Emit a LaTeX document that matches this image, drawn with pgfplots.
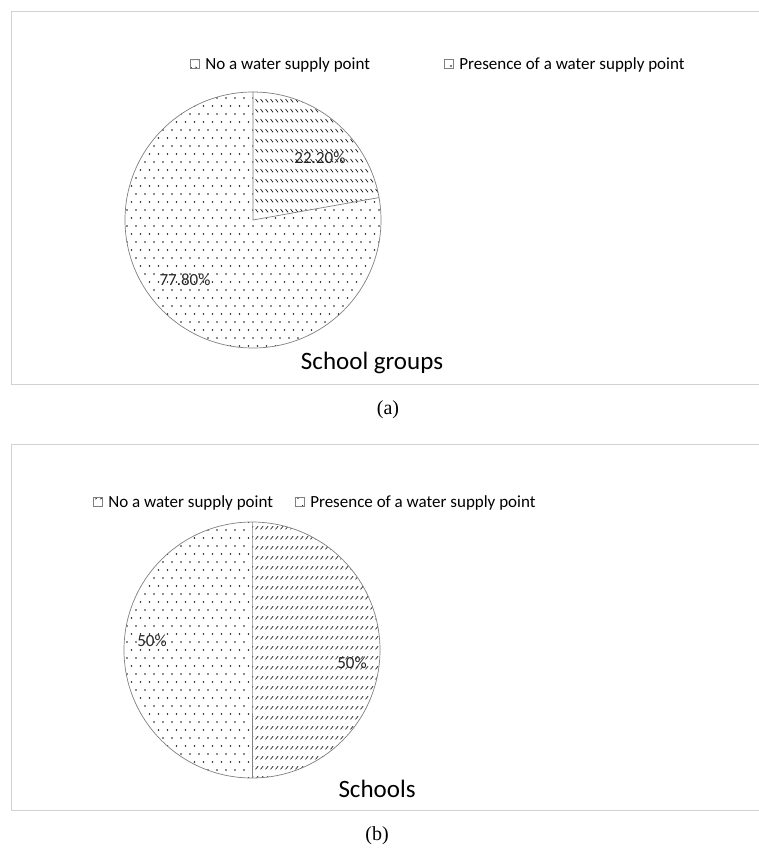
\documentclass[border=0pt]{standalone}
\usepackage{fontspec}
\setmainfont{Carlito}
\newfontfamily\seriffont{Liberation Serif}
\usepackage{pgfplots}
\usepackage{pgfplotstable}
\pgfplotsset{compat=1.18}
\usetikzlibrary{patterns.meta}

\tikzdeclarepattern{
  name=pdots,
  bottom left={(-1bp,-1bp)}, top right={(10bp,17bp)},
  tile size={(9bp,16bp)},
  code={
    \fill (1bp,1bp) circle (0.8bp);
    \fill (5.5bp,9bp) circle (0.8bp);
  }
}
\tikzdeclarepattern{
  name=phatchA,
  bottom left={(0bp,0bp)}, top right={(5bp,9.5bp)},
  tile size={(5bp,9.5bp)},
  code={
    \draw[line width=0.8bp] (0.6bp,5.2bp) -- (3.6bp,1.8bp);
  }
}
\tikzdeclarepattern{
  name=phatchB,
  bottom left={(0bp,0bp)}, top right={(5bp,10bp)},
  tile size={(5bp,10bp)},
  code={
    \draw[line width=0.8bp] (0.6bp,1.8bp) -- (3.6bp,5.2bp);
  }
}

\pgfplotstableread{
label value
No 22.2
Presence 77.8
}\tabA
\pgfplotstableread{
label value
No 50
Presence 50
}\tabB

\pgfplotsset{
  piebox/.style={
    scale only axis, width=748bp,
    axis line style={gray!35, line width=0.8bp},
    xtick=\empty, ytick=\empty, clip=false,
    legend style={draw=none, fill=none, font=\fontsize{17bp}{20bp}\selectfont,
      inner sep=0pt, legend columns=2, anchor=west, cells={anchor=west}},
    legend image code/.code={%
      \path[draw=none, fill=none, pattern=none] (0bp,0bp) rectangle (13bp,0.1bp);
      \draw[##1, draw=gray, line width=0.5bp] (0bp,-4.5bp) rectangle (9bp,4.5bp);},
  },
}
\tikzset{pielabel/.style={font=\fontsize{17bp}{20bp}\selectfont, text=black!85}}

\begin{document}
\begin{tikzpicture}
\path[use as bounding box] (0bp,0bp) rectangle (759bp,-851bp);
\pgfplotstablegetelem{0}{value}\of\tabA
\pgfmathsetmacro\aA{90-3.6*\pgfplotsretval}
\pgfplotstablegetelem{0}{value}\of\tabB
\pgfmathsetmacro\aB{90-3.6*\pgfplotsretval}

% ---------- panel (a)
\begin{axis}[piebox, at={(11bp,-384bp)}, anchor=south west, height=373bp,
  xmin=-1.890625, xmax=3.953125, ymin=-1.28125, ymax=1.6328125,
  legend style={at={(0.2393,0.858)}, /tikz/every even column/.append style={column sep=72bp}}]
\addlegendimage{pattern=phatchA, pattern color=black}
\addlegendentry{No a water supply point}
\addlegendimage{pattern=pdots, pattern color=black}
\addlegendentry{Presence of a water supply point}
\fill[pattern=phatchA, pattern color=black!90] (axis cs:0,0) -- (axis cs:0,1) arc[start angle=90, end angle=\aA, radius=128bp] -- cycle;
\fill[pattern=pdots, pattern color=black!90] (axis cs:0,0) -- (axis cs:0,1) arc[start angle=90, end angle=\aA+360, radius=128bp] -- cycle;
\draw[gray, line width=0.7bp] (axis cs:0,0) circle[radius=128bp];
\draw[gray, line width=0.7bp] (axis cs:0,1) -- (axis cs:0,0) -- ([shift={(\aA:128bp)}]axis cs:0,0);
\node[pielabel] at (axis cs:0.523,0.484) {22.20\%};
\node[pielabel] at (axis cs:-0.531,-0.469) {77.80\%};
\node[font=\fontsize{25bp}{30bp}\selectfont] at (axis cs:0.93,-1.117) {School groups};
\end{axis}
\node[font=\seriffont\fontsize{20bp}{24bp}\selectfont] at (388bp,-410bp) {(a)};

% ---------- panel (b)
\begin{axis}[piebox, at={(11bp,-810bp)}, anchor=south west, height=366bp,
  xmin=-1.8828125, xmax=3.9609375, ymin=-1.25, ymax=1.609375,
  legend style={at={(0.1096,0.8415)}, /tikz/every even column/.append style={column sep=20bp}}]
\addlegendimage{pattern=phatchB, pattern color=black}
\addlegendentry{No a water supply point}
\addlegendimage{pattern=pdots, pattern color=black}
\addlegendentry{Presence of a water supply point}
\fill[pattern=phatchB, pattern color=black!90] (axis cs:0,0) -- (axis cs:0,1) arc[start angle=90, end angle=\aB, radius=128bp] -- cycle;
\fill[pattern=pdots, pattern color=black!90] (axis cs:0,0) -- ([shift={(\aB:128bp)}]axis cs:0,0) arc[start angle=\aB, end angle=-270, radius=128bp] -- cycle;
\draw[gray, line width=0.7bp] (axis cs:0,0) circle[radius=128bp];
\draw[gray, line width=0.7bp] (axis cs:0,1) -- (axis cs:0,0) -- ([shift={(\aB:128bp)}]axis cs:0,0);
\node[pielabel] at (axis cs:-0.781,0.0703) {50\%};
\node[pielabel] at (axis cs:0.781,-0.1016) {50\%};
\node[font=\fontsize{25bp}{30bp}\selectfont] at (axis cs:0.977,-1.086) {Schools};
\end{axis}
\node[font=\seriffont\fontsize{20bp}{24bp}\selectfont] at (377bp,-836bp) {(b)};
\end{tikzpicture}
\end{document}
